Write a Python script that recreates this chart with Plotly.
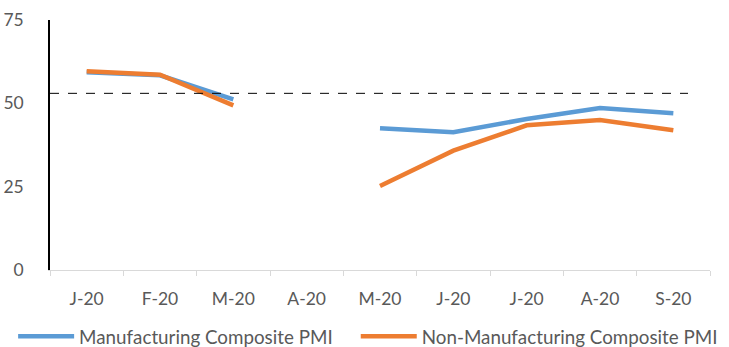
import plotly.graph_objects as go

months = ["J-20", "F-20", "M-20", "A-20", "M-20 ", "J-20 ", "J-20  ", "A-20 ", "S-20"]
tick_text = ["J-20", "F-20", "M-20", "A-20", "M-20", "J-20", "J-20", "A-20", "S-20"]
manufacturing = [59.3, 58.4, 51.2, None, 42.5, 41.3, 45.3, 48.6, 47.0]
non_manufacturing = [59.6, 58.6, 49.4, None, 25.2, 35.8, 43.4, 45.0, 41.9]
threshold = 53.0

blue = "#5B9BD5"
orange = "#ED7D31"
text_color = "#595959"
font_family = "Lato, 'Open Sans', sans-serif"

fig = go.Figure()
fig.add_trace(go.Scatter(
    x=months, y=manufacturing, mode="lines", name="Manufacturing Composite PMI",
    line=dict(color=blue, width=4.5), connectgaps=False, legend="legend",
))
fig.add_trace(go.Scatter(
    x=months, y=non_manufacturing, mode="lines", name="Non-Manufacturing Composite PMI",
    line=dict(color=orange, width=4.5), connectgaps=False, legend="legend2",
))

# reference level across the chart
fig.add_shape(
    type="line", xref="x", yref="y", x0=-0.5, x1=8.2, y0=threshold, y1=threshold,
    line=dict(color="#000000", width=1, dash="dash"),
)

legend_style = dict(
    orientation="h", xanchor="left", yref="container", y=0.030, yanchor="middle",
    xref="container", font=dict(size=18.8, color=text_color), itemwidth=56,
    borderwidth=0, bgcolor="rgba(0,0,0,0)",
)

fig.update_layout(
    width=729, height=347,
    margin=dict(l=50, r=19, t=20, b=77, autoexpand=False),
    paper_bgcolor="white", plot_bgcolor="white",
    font=dict(family=font_family, size=17.5, color=text_color),
    showlegend=True,
    legend=dict(x=0.018, **legend_style),
    legend2=dict(x=0.488, **legend_style),
)
fig.update_xaxes(
    type="category", categoryorder="array", categoryarray=months,
    tickvals=months, ticktext=tick_text, automargin=False,
    range=[-0.5, 8.5], tickson="boundaries", ticks="outside", ticklen=5,
    tickcolor="#D9D9D9", showline=True, linecolor="#D9D9D9", linewidth=1,
    showgrid=False, zeroline=False, tickfont=dict(size=17.5, color=text_color),
    ticklabelstandoff=13,
)
fig.update_yaxes(
    range=[0, 75], tickvals=[0, 25, 50, 75], showline=True, linecolor="#000000",
    linewidth=1.5, ticks="", showgrid=False, zeroline=False, automargin=False,
    tickfont=dict(size=17.5, color=text_color), ticklabelstandoff=21,
)

fig.write_html("out.html")
